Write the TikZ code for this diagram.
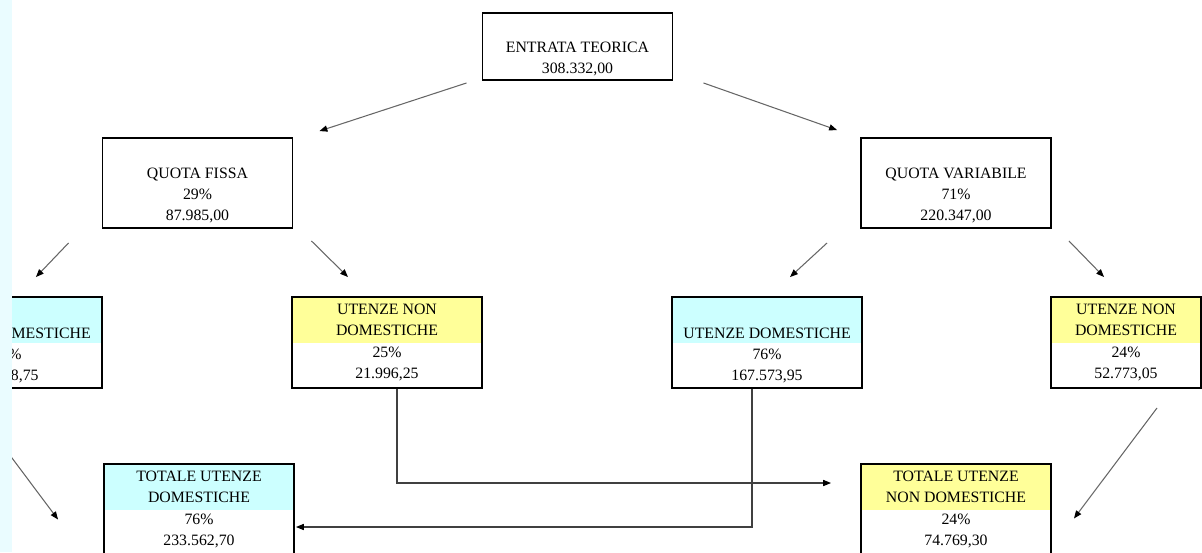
\documentclass[tikz,border=0pt]{standalone}
\usepackage{fontspec}
\setmainfont{Liberation Serif}
\usetikzlibrary{arrows.meta}

\definecolor{hcyan}{RGB}{204,255,255}
\definecolor{hyellow}{RGB}{255,255,153}
\definecolor{stripcyan}{RGB}{234,252,255}

\begin{document}
\begin{tikzpicture}[x=0.02cm, y=-0.02cm,
  box/.style={rectangle, draw, line width=1.1pt, align=center, inner sep=0pt,
    minimum width=3.8cm, minimum height=1.82cm, font=\fontsize{9}{12}\selectfont},
  head/.style={path picture={\fill[#1] (path picture bounding box.north west)
    rectangle ([yshift=-0.92cm]path picture bounding box.north east);}},
  arr/.style={draw=black!60, line width=0.6pt, -{Triangle[length=4.5pt, width=3.5pt, color=black]}},
  elb/.style={draw=black!75, line width=0.6pt, -{Triangle[length=4.5pt, width=3.5pt, color=black]}}]

\useasboundingbox (0,0) rectangle (1202,552);
\clip (0,0) rectangle (1202,552);

\node[box, minimum height=1.34cm] (et) at (577.5,46.5) {\strut\\ENTRATA TEORICA\\308.332,00};

\node[box, minimum height=1.8cm] (qf) at (197.5,183) {\strut\\QUOTA FISSA\\29\%\\87.985,00};
\node[box, minimum height=1.8cm] (qv) at (956,183) {\strut\\QUOTA VARIABILE\\71\%\\220.347,00};

\node[box, head=hcyan] (udf) at (7,342.5) {\strut\\UTENZE DOMESTICHE\\75\%\\65.988,75};
\node[box, head=hyellow] (undf) at (387,342.5) {UTENZE NON\\DOMESTICHE\\25\%\\21.996,25};
\node[box, head=hcyan] (udv) at (767,342.5) {\strut\\UTENZE DOMESTICHE\\76\%\\167.573,95};
\node[box, head=hyellow, minimum width=3cm] (undv) at (1126,342.5) {UTENZE NON\\DOMESTICHE\\24\%\\52.773,05};

\node[box, head=hcyan] (tud) at (199,509.5) {TOTALE UTENZE\\DOMESTICHE\\76\%\\233.562,70};
\node[box, head=hyellow] (tund) at (956,509.5) {TOTALE UTENZE\\NON DOMESTICHE\\24\%\\74.769,30};

% split of the total
\draw[arr] ([shift={(-15,2)}]et.south west) -- ([shift={(26,-6)}]qf.north east);
\draw[arr] ([shift={(30,2)}]et.south east) -- ([shift={(-23,-7)}]qv.north west);

\draw[arr] ([shift={(-33,14)}]qf.south west) -- ([shift={(-67,-19)}]udf.north east);
\draw[arr] ([shift={(18,12)}]qf.south east) -- ([shift={(-39,-19)}]undf.north);
\draw[arr] ([shift={(-33,14)}]qv.south west) -- ([shift={(23,-19)}]udv.north);
\draw[arr] ([shift={(17,12)}]qv.south east) -- ([shift={(54,-19)}]undv.north west);

% totals
\draw[arr] ([shift={(-7,53)}]udf.south) -- ([shift={(-45,10)}]tud.west);
\draw[arr] ([shift={(31,19)}]undv.south) -- ([shift={(22,9)}]tund.east);
\draw[elb] ([shift={(10,0)}]undf.south) |- ([shift={(-29,-26.5)}]tund.west);
\draw[elb] ([shift={(-15,0)}]udv.south) |- ([shift={(1,17.5)}]tud.east);

\fill[stripcyan] (0,0) rectangle (12,552);

\end{tikzpicture}
\end{document}
